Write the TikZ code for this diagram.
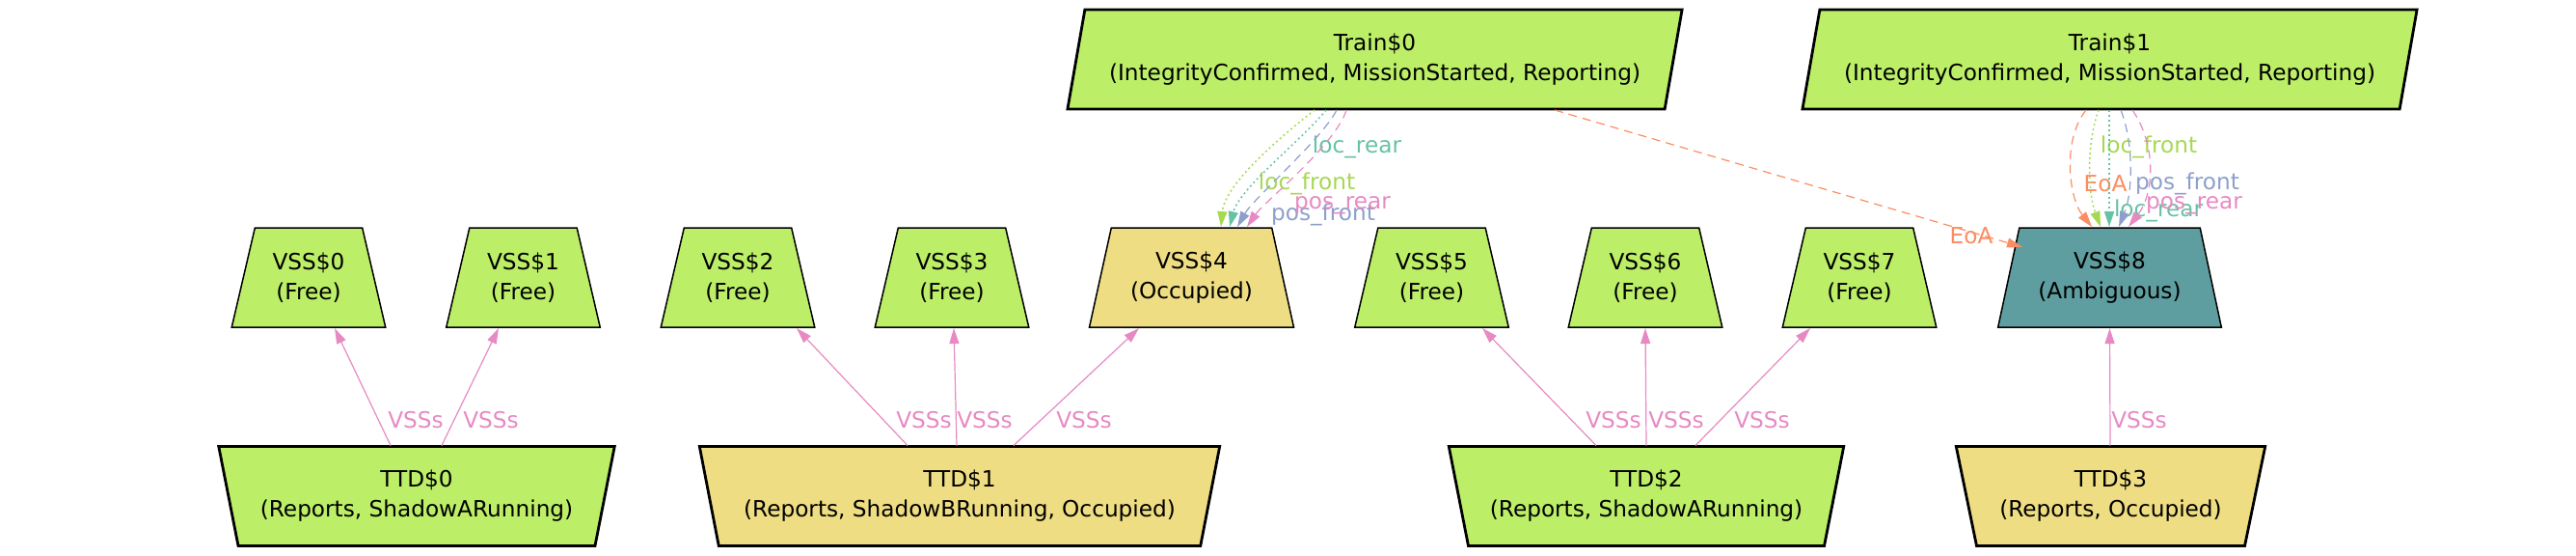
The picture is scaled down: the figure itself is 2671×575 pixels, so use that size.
\documentclass[tikz,border=0pt]{standalone}
\usepackage{fontspec}
\setmainfont{DejaVu Sans}
\usetikzlibrary{shapes.geometric,arrows.meta,calc}
\definecolor{ngreen}{HTML}{BCEE68}
\definecolor{nyellow}{HTML}{EEDD82}
\definecolor{nteal}{HTML}{5F9EA0}
\definecolor{cteal}{HTML}{66C2A5}
\definecolor{corange}{HTML}{FC8D62}
\definecolor{cblue}{HTML}{8DA0CB}
\definecolor{cpink}{HTML}{E78AC3}
\definecolor{cgreen}{HTML}{A6D854}
\begin{document}
\begin{tikzpicture}[x=0.5pt,y=-0.5pt,
  every node/.style={font=\fontsize{11.6}{15.5}\selectfont},
  basebox/.style={trapezium, trapezium stretches=true, draw=black, align=center, inner sep=2pt, minimum height=51.5pt},
  vssbox/.style={basebox, trapezium left angle=73.3, trapezium right angle=73.3, line width=0.75pt},
  ttdbox/.style={basebox, trapezium left angle=106.5, trapezium right angle=106.5, line width=1.4pt},
  trainbox/.style={basebox, trapezium left angle=74.8, trapezium right angle=105.2, line width=1.4pt, minimum width=319pt, fill=ngreen},
  lbl/.style={inner sep=0pt},
  tip/.style={-{Triangle[length=8pt,width=5pt]}},
  vssedge/.style={tip, draw=cpink, line width=0.6pt},
  dottededge/.style={tip, line width=0.8pt, dash pattern=on 0.9pt off 1.6pt},
  dashededge/.style={tip, line width=0.6pt, dash pattern=on 4.5pt off 3pt}
]
\useasboundingbox (0,0) rectangle (2671,575);

% Trains
\node[trainbox] (tr0) at (1425.5,61.5) {Train\$0\\(IntegrityConfirmed, MissionStarted, Reporting)};
\node[trainbox] (tr1) at (2187.5,61.5) {Train\$1\\(IntegrityConfirmed, MissionStarted, Reporting)};

% VSS
\node[vssbox, fill=ngreen, minimum width=80pt] (v0) at (320,287.5) {VSS\$0\\(Free)};
\node[vssbox, fill=ngreen, minimum width=80pt] (v1) at (542.5,287.5) {VSS\$1\\(Free)};
\node[vssbox, fill=ngreen, minimum width=80pt] (v2) at (765,287.5) {VSS\$2\\(Free)};
\node[vssbox, fill=ngreen, minimum width=80pt] (v3) at (987,287.5) {VSS\$3\\(Free)};
\node[vssbox, fill=nyellow, minimum width=106.5pt] (v4) at (1235.5,287.5) {VSS\$4\\(Occupied)};
\node[vssbox, fill=ngreen, minimum width=80pt] (v5) at (1484.5,287.5) {VSS\$5\\(Free)};
\node[vssbox, fill=ngreen, minimum width=80pt] (v6) at (1706,287.5) {VSS\$6\\(Free)};
\node[vssbox, fill=ngreen, minimum width=80pt] (v7) at (1928,287.5) {VSS\$7\\(Free)};
\node[vssbox, fill=nteal, minimum width=116.5pt] (v8) at (2187.5,287.5) {VSS\$8\\(Ambiguous)};

% TTD
\node[ttdbox, fill=ngreen, minimum width=205.5pt] (t0) at (432,514) {TTD\$0\\(Reports, ShadowARunning)};
\node[ttdbox, fill=nyellow, minimum width=270pt] (t1) at (995,514) {TTD\$1\\(Reports, ShadowBRunning, Occupied)};
\node[ttdbox, fill=ngreen, minimum width=205pt] (t2) at (1707,514) {TTD\$2\\(Reports, ShadowARunning)};
\node[ttdbox, fill=nyellow, minimum width=160.5pt] (t3) at (2188.5,514) {TTD\$3\\(Reports, Occupied)};

% TTD -> VSS edges
\draw[vssedge] ($(t0.center)+(-27,-52.5)$) -- ($(v0.center)+(27,52.5)$) node[lbl, text=cpink] (lv0) at (431,435) {VSSs};
\draw[vssedge] ($(t0.center)+(26,-52.5)$) -- ($(v1.center)+(-25.5,52.5)$) node[lbl, text=cpink] (lv1) at (509,435) {VSSs};
\draw[vssedge] ($(t1.center)+(-54,-52.5)$) -- ($(v2.center)+(61,52.5)$) node[lbl, text=cpink] (lv2) at (958,435) {VSSs};
\draw[vssedge] ($(t1.center)+(-3,-52.5)$) -- ($(v3.center)+(2,52.5)$) node[lbl, text=cpink] (lv3) at (1021,435) {VSSs};
\draw[vssedge] ($(t1.center)+(56,-52.5)$) -- ($(v4.center)+(-54.5,52.5)$) node[lbl, text=cpink] (lv4) at (1124,435) {VSSs};
\draw[vssedge] ($(t2.center)+(-52,-52.5)$) -- ($(v5.center)+(52.5,52.5)$) node[lbl, text=cpink] (lv5) at (1673,435) {VSSs};
\draw[vssedge] ($(t2.center)+(0,-52.5)$) -- ($(v6.center)+(0,52.5)$) node[lbl, text=cpink] (lv6) at (1738,435) {VSSs};
\draw[vssedge] ($(t2.center)+(51,-52.5)$) -- ($(v7.center)+(-51,52.5)$) node[lbl, text=cpink] (lv7) at (1827,435) {VSSs};
\draw[vssedge] ($(t3.center)+(-0.5,-52.5)$) -- ($(v8.center)+(0,52.5)$) node[lbl, text=cpink] (lv8) at (2218,435) {VSSs};

% Train0 -> VSS4
\draw[dottededge, draw=cgreen] ($(tr0.center)+(-62.5,52.5)$) .. controls (1330,140) and (1270,190) .. ($(v4.center)+(30.5,-52.5)$) node[lbl, text=cgreen] (a1) at (1355,190) {loc\_front};
\draw[dottededge, draw=cteal] ($(tr0.center)+(-50.5,52.5)$) .. controls (1350,145) and (1285,195) .. ($(v4.center)+(39.5,-52.5)$) node[lbl, text=cteal] (a2) at (1407,152) {loc\_rear};
\draw[dashededge, draw=cblue] ($(tr0.center)+(-39.5,52.5)$) .. controls (1370,145) and (1300,205) .. ($(v4.center)+(47.5,-52.5)$) node[lbl, text=cblue] (a3) at (1372,222) {pos\_front};
\draw[dashededge, draw=cpink] ($(tr0.center)+(-29.5,52.5)$) .. controls (1385,150) and (1310,210) .. ($(v4.center)+(57.5,-52.5)$) node[lbl, text=cpink] (a4) at (1392,213) {pos\_rear};

% Train0 -> VSS8
\draw[dashededge, draw=corange] ($(tr0.center)+(186.5,52.5)$) -- ($(v8.center)+(-90.5,-31.5)$) node[lbl, text=corange] (a5) at (2044,244) {EoA};

% Train1 -> VSS8
\draw[dashededge, draw=corange] ($(tr1.center)+(-24.5,52.5)$) .. controls (2138,145) and (2145,205) .. ($(v8.center)+(-18.5,-52.5)$) node[lbl, text=corange] (b1) at (2183,190) {EoA};
\draw[dottededge, draw=cgreen] ($(tr1.center)+(-11.5,52.5)$) .. controls (2163,150) and (2165,200) .. ($(v8.center)+(-9.5,-52.5)$) node[lbl, text=cgreen] (b2) at (2228,152) {loc\_front};
\draw[dottededge, draw=cteal] ($(tr1.center)+(-0.5,52.5)$) -- ($(v8.center)+(-0.5,-52.5)$) node[lbl, text=cteal] (b3) at (2238,218) {loc\_rear};
\draw[dashededge, draw=cblue] ($(tr1.center)+(11.5,52.5)$) .. controls (2213,150) and (2211,200) .. ($(v8.center)+(9.5,-52.5)$) node[lbl, text=cblue] (b4) at (2268,190) {pos\_front};
\draw[dashededge, draw=cpink] ($(tr1.center)+(23.5,52.5)$) .. controls (2236,150) and (2234,200) .. ($(v8.center)+(19.5,-52.5)$) node[lbl, text=cpink] (b5) at (2275,213) {pos\_rear};
\end{tikzpicture}
\end{document}
